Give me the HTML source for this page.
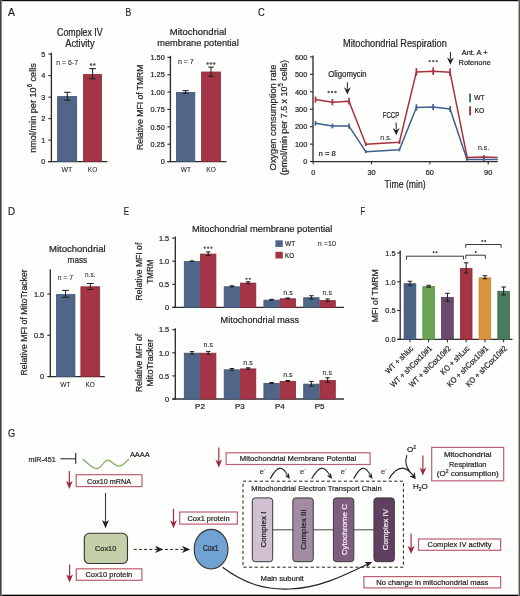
<!DOCTYPE html>
<html><head><meta charset="utf-8"><title>Figure</title><style>
html,body{margin:0;padding:0;background:#fefefd;width:520px;height:596px;overflow:hidden;}
svg{display:block;font-family:"Liberation Sans",sans-serif;will-change:transform;}
</style></head><body>
<svg width="520" height="596" viewBox="0 0 520 596">
<rect x="0" y="0" width="520" height="596" fill="#fefefd"/>
<text x="8.1" y="15.8" font-size="11.5" text-anchor="start" fill="#231f20" stroke="#231f20" stroke-width="0.22" textLength="6.9" lengthAdjust="spacingAndGlyphs">A</text>
<text x="57.1" y="35.5" font-size="10.2" text-anchor="start" fill="#231f20" stroke="#231f20" stroke-width="0.22" textLength="45.6" lengthAdjust="spacingAndGlyphs">Complex IV</text>
<text x="65.2" y="46.5" font-size="10.2" text-anchor="start" fill="#231f20" stroke="#231f20" stroke-width="0.22" textLength="29.4" lengthAdjust="spacingAndGlyphs">Activity</text>
<line x1="51.4" y1="52.6" x2="51.4" y2="162.1" stroke="#2e2e2e" stroke-width="1.35"/>
<line x1="48.4" y1="161.6" x2="51.4" y2="161.6" stroke="#2e2e2e" stroke-width="1.15"/>
<line x1="48.4" y1="140.1" x2="51.4" y2="140.1" stroke="#2e2e2e" stroke-width="1.15"/>
<line x1="48.4" y1="118.6" x2="51.4" y2="118.6" stroke="#2e2e2e" stroke-width="1.15"/>
<line x1="48.4" y1="97.1" x2="51.4" y2="97.1" stroke="#2e2e2e" stroke-width="1.15"/>
<line x1="48.4" y1="75.6" x2="51.4" y2="75.6" stroke="#2e2e2e" stroke-width="1.15"/>
<line x1="48.4" y1="54.1" x2="51.4" y2="54.1" stroke="#2e2e2e" stroke-width="1.15"/>
<text x="45.3" y="164.3" font-size="8" text-anchor="end" fill="#231f20" stroke="#231f20" stroke-width="0.22" textLength="4.09" lengthAdjust="spacingAndGlyphs">0</text>
<text x="45.3" y="142.8" font-size="8" text-anchor="end" fill="#231f20" stroke="#231f20" stroke-width="0.22" textLength="4.09" lengthAdjust="spacingAndGlyphs">1</text>
<text x="45.3" y="121.3" font-size="8" text-anchor="end" fill="#231f20" stroke="#231f20" stroke-width="0.22" textLength="4.09" lengthAdjust="spacingAndGlyphs">2</text>
<text x="45.3" y="99.8" font-size="8" text-anchor="end" fill="#231f20" stroke="#231f20" stroke-width="0.22" textLength="4.09" lengthAdjust="spacingAndGlyphs">3</text>
<text x="45.3" y="78.3" font-size="8" text-anchor="end" fill="#231f20" stroke="#231f20" stroke-width="0.22" textLength="4.09" lengthAdjust="spacingAndGlyphs">4</text>
<text x="45.3" y="56.8" font-size="8" text-anchor="end" fill="#231f20" stroke="#231f20" stroke-width="0.22" textLength="4.09" lengthAdjust="spacingAndGlyphs">5</text>
<line x1="48.2" y1="161.6" x2="107.5" y2="161.6" stroke="#2e2e2e" stroke-width="1.35"/>
<rect x="57.6" y="96.6" width="19.1" height="65" fill="#4f6688" stroke="#3e5578" stroke-width="0.8"/>
<rect x="83.6" y="74.4" width="17.9" height="87.2" fill="#a33547" stroke="#8f2738" stroke-width="0.8"/>
<line x1="67.3" y1="92.3" x2="67.3" y2="100.2" stroke="#231f20" stroke-width="1.05"/>
<line x1="64.1" y1="92.3" x2="70.5" y2="92.3" stroke="#231f20" stroke-width="1.05"/>
<line x1="64.1" y1="100.2" x2="70.5" y2="100.2" stroke="#231f20" stroke-width="1.05"/>
<line x1="92.6" y1="68.6" x2="92.6" y2="78.7" stroke="#231f20" stroke-width="1.05"/>
<line x1="89.3" y1="68.6" x2="95.9" y2="68.6" stroke="#231f20" stroke-width="1.05"/>
<line x1="89.3" y1="78.7" x2="95.9" y2="78.7" stroke="#231f20" stroke-width="1.05"/>
<text x="56.3" y="64.8" font-size="7.2" text-anchor="start" fill="#231f20" stroke="#231f20" stroke-width="0.08" textLength="21.7" lengthAdjust="spacingAndGlyphs">n = 6-7</text>
<circle cx="91.08" cy="64.6" r="1.3" fill="#5a5a5a"/>
<circle cx="94.33" cy="64.6" r="1.3" fill="#5a5a5a"/>
<text x="61.5" y="172.2" font-size="7" text-anchor="start" fill="#231f20" stroke="#231f20" stroke-width="0.08" textLength="10.8" lengthAdjust="spacingAndGlyphs">WT</text>
<text x="87.8" y="172.2" font-size="7" text-anchor="start" fill="#231f20" stroke="#231f20" stroke-width="0.08" textLength="9.4" lengthAdjust="spacingAndGlyphs">KO</text>
<text x="35.5" y="108" font-size="9.6" text-anchor="middle" fill="#231f20" stroke="#231f20" stroke-width="0.22" transform="rotate(-90 35.5 108)" textLength="89.7" lengthAdjust="spacingAndGlyphs">nmol/min per 10<tspan font-size="6.3" dy="-3.6">6</tspan><tspan dy="3.6"> cells</tspan></text>
<text x="125.6" y="16" font-size="11.5" text-anchor="start" fill="#231f20" stroke="#231f20" stroke-width="0.22" textLength="5.7" lengthAdjust="spacingAndGlyphs">B</text>
<text x="169.8" y="35.4" font-size="9.8" text-anchor="start" fill="#231f20" stroke="#231f20" stroke-width="0.22" textLength="56.5" lengthAdjust="spacingAndGlyphs">Mitochondrial</text>
<text x="157.3" y="46.3" font-size="9.8" text-anchor="start" fill="#231f20" stroke="#231f20" stroke-width="0.22" textLength="81.5" lengthAdjust="spacingAndGlyphs">membrane potential</text>
<line x1="170.4" y1="55.82" x2="170.4" y2="162.1" stroke="#2e2e2e" stroke-width="1.35"/>
<line x1="167.4" y1="161.6" x2="170.4" y2="161.6" stroke="#2e2e2e" stroke-width="1.15"/>
<line x1="167.4" y1="144.22" x2="170.4" y2="144.22" stroke="#2e2e2e" stroke-width="1.15"/>
<line x1="167.4" y1="126.84" x2="170.4" y2="126.84" stroke="#2e2e2e" stroke-width="1.15"/>
<line x1="167.4" y1="109.46" x2="170.4" y2="109.46" stroke="#2e2e2e" stroke-width="1.15"/>
<line x1="167.4" y1="92.08" x2="170.4" y2="92.08" stroke="#2e2e2e" stroke-width="1.15"/>
<line x1="167.4" y1="74.7" x2="170.4" y2="74.7" stroke="#2e2e2e" stroke-width="1.15"/>
<line x1="167.4" y1="57.32" x2="170.4" y2="57.32" stroke="#2e2e2e" stroke-width="1.15"/>
<text x="164.8" y="164.3" font-size="8" text-anchor="end" fill="#231f20" stroke="#231f20" stroke-width="0.22" textLength="4.09" lengthAdjust="spacingAndGlyphs">0</text>
<text x="164.8" y="146.92" font-size="8" text-anchor="end" fill="#231f20" stroke="#231f20" stroke-width="0.22" textLength="14.32" lengthAdjust="spacingAndGlyphs">0.25</text>
<text x="164.8" y="129.54" font-size="8" text-anchor="end" fill="#231f20" stroke="#231f20" stroke-width="0.22" textLength="14.32" lengthAdjust="spacingAndGlyphs">0.50</text>
<text x="164.8" y="112.16" font-size="8" text-anchor="end" fill="#231f20" stroke="#231f20" stroke-width="0.22" textLength="14.32" lengthAdjust="spacingAndGlyphs">0.75</text>
<text x="164.8" y="94.78" font-size="8" text-anchor="end" fill="#231f20" stroke="#231f20" stroke-width="0.22" textLength="14.32" lengthAdjust="spacingAndGlyphs">1.00</text>
<text x="164.8" y="77.4" font-size="8" text-anchor="end" fill="#231f20" stroke="#231f20" stroke-width="0.22" textLength="14.32" lengthAdjust="spacingAndGlyphs">1.25</text>
<text x="164.8" y="60.02" font-size="8" text-anchor="end" fill="#231f20" stroke="#231f20" stroke-width="0.22" textLength="14.32" lengthAdjust="spacingAndGlyphs">1.50</text>
<line x1="167.3" y1="161.6" x2="226.5" y2="161.6" stroke="#2e2e2e" stroke-width="1.35"/>
<rect x="176.4" y="92.48" width="18.4" height="69.12" fill="#4f6688" stroke="#3e5578" stroke-width="0.8"/>
<rect x="201.6" y="72" width="18.8" height="89.6" fill="#a33547" stroke="#8f2738" stroke-width="0.8"/>
<line x1="185.6" y1="90.6" x2="185.6" y2="93.2" stroke="#231f20" stroke-width="1.05"/>
<line x1="182.6" y1="90.6" x2="188.6" y2="90.6" stroke="#231f20" stroke-width="1.05"/>
<line x1="182.6" y1="93.2" x2="188.6" y2="93.2" stroke="#231f20" stroke-width="1.05"/>
<line x1="211" y1="67.1" x2="211" y2="76.3" stroke="#231f20" stroke-width="1.05"/>
<line x1="208.2" y1="67.1" x2="213.8" y2="67.1" stroke="#231f20" stroke-width="1.05"/>
<line x1="208.2" y1="76.3" x2="213.8" y2="76.3" stroke="#231f20" stroke-width="1.05"/>
<text x="177.9" y="64.3" font-size="7.5" text-anchor="start" fill="#231f20" stroke="#231f20" stroke-width="0.08" textLength="15.9" lengthAdjust="spacingAndGlyphs">n = 7</text>
<circle cx="207.6" cy="63.5" r="1.3" fill="#5a5a5a"/>
<circle cx="210.85" cy="63.5" r="1.3" fill="#5a5a5a"/>
<circle cx="214.1" cy="63.5" r="1.3" fill="#5a5a5a"/>
<text x="180.8" y="172" font-size="7" text-anchor="start" fill="#231f20" stroke="#231f20" stroke-width="0.08" textLength="10.2" lengthAdjust="spacingAndGlyphs">WT</text>
<text x="206.3" y="172" font-size="7" text-anchor="start" fill="#231f20" stroke="#231f20" stroke-width="0.08" textLength="9.5" lengthAdjust="spacingAndGlyphs">KO</text>
<text x="143.3" y="107.3" font-size="9.6" text-anchor="middle" fill="#231f20" stroke="#231f20" stroke-width="0.22" transform="rotate(-90 143.3 107.3)" textLength="85.4" lengthAdjust="spacingAndGlyphs">Relative MFI of TMRM</text>
<text x="258.1" y="16" font-size="11.5" text-anchor="start" fill="#231f20" stroke="#231f20" stroke-width="0.22" textLength="6.7" lengthAdjust="spacingAndGlyphs">C</text>
<text x="343" y="47" font-size="10.2" text-anchor="start" fill="#231f20" stroke="#231f20" stroke-width="0.22" textLength="103.8" lengthAdjust="spacingAndGlyphs">Mitochondrial Respiration</text>
<line x1="313" y1="55.4" x2="313" y2="162.1" stroke="#2e2e2e" stroke-width="1.35"/>
<line x1="310" y1="161.6" x2="313" y2="161.6" stroke="#2e2e2e" stroke-width="1.15"/>
<line x1="310" y1="144.15" x2="313" y2="144.15" stroke="#2e2e2e" stroke-width="1.15"/>
<line x1="310" y1="126.7" x2="313" y2="126.7" stroke="#2e2e2e" stroke-width="1.15"/>
<line x1="310" y1="109.25" x2="313" y2="109.25" stroke="#2e2e2e" stroke-width="1.15"/>
<line x1="310" y1="91.8" x2="313" y2="91.8" stroke="#2e2e2e" stroke-width="1.15"/>
<line x1="310" y1="74.35" x2="313" y2="74.35" stroke="#2e2e2e" stroke-width="1.15"/>
<line x1="310" y1="56.9" x2="313" y2="56.9" stroke="#2e2e2e" stroke-width="1.15"/>
<text x="307.3" y="164.3" font-size="8" text-anchor="end" fill="#231f20" stroke="#231f20" stroke-width="0.22" textLength="4.09" lengthAdjust="spacingAndGlyphs">0</text>
<text x="307.3" y="146.85" font-size="8" text-anchor="end" fill="#231f20" stroke="#231f20" stroke-width="0.22" textLength="12.28" lengthAdjust="spacingAndGlyphs">100</text>
<text x="307.3" y="129.4" font-size="8" text-anchor="end" fill="#231f20" stroke="#231f20" stroke-width="0.22" textLength="12.28" lengthAdjust="spacingAndGlyphs">200</text>
<text x="307.3" y="111.95" font-size="8" text-anchor="end" fill="#231f20" stroke="#231f20" stroke-width="0.22" textLength="12.28" lengthAdjust="spacingAndGlyphs">300</text>
<text x="307.3" y="94.5" font-size="8" text-anchor="end" fill="#231f20" stroke="#231f20" stroke-width="0.22" textLength="12.28" lengthAdjust="spacingAndGlyphs">400</text>
<text x="307.3" y="77.05" font-size="8" text-anchor="end" fill="#231f20" stroke="#231f20" stroke-width="0.22" textLength="12.28" lengthAdjust="spacingAndGlyphs">500</text>
<text x="307.3" y="59.6" font-size="8" text-anchor="end" fill="#231f20" stroke="#231f20" stroke-width="0.22" textLength="12.28" lengthAdjust="spacingAndGlyphs">600</text>
<line x1="313" y1="161.6" x2="497.8" y2="161.6" stroke="#2e2e2e" stroke-width="1.35"/>
<line x1="313.2" y1="161.6" x2="313.2" y2="164.4" stroke="#231f20" stroke-width="1"/>
<text x="313.2" y="175" font-size="8" text-anchor="middle" fill="#231f20" stroke="#231f20" stroke-width="0.22" textLength="4.09" lengthAdjust="spacingAndGlyphs">0</text>
<line x1="371.53" y1="161.6" x2="371.53" y2="164.4" stroke="#231f20" stroke-width="1"/>
<text x="371.53" y="175" font-size="8" text-anchor="middle" fill="#231f20" stroke="#231f20" stroke-width="0.22" textLength="8.19" lengthAdjust="spacingAndGlyphs">30</text>
<line x1="429.86" y1="161.6" x2="429.86" y2="164.4" stroke="#231f20" stroke-width="1"/>
<text x="429.86" y="175" font-size="8" text-anchor="middle" fill="#231f20" stroke="#231f20" stroke-width="0.22" textLength="8.19" lengthAdjust="spacingAndGlyphs">60</text>
<line x1="488.2" y1="161.6" x2="488.2" y2="164.4" stroke="#231f20" stroke-width="1"/>
<text x="488.2" y="175" font-size="8" text-anchor="middle" fill="#231f20" stroke="#231f20" stroke-width="0.22" textLength="8.19" lengthAdjust="spacingAndGlyphs">90</text>
<text x="384.6" y="188.3" font-size="10.5" text-anchor="start" fill="#231f20" stroke="#231f20" stroke-width="0.22" textLength="41" lengthAdjust="spacingAndGlyphs">Time (min)</text>
<polyline points="315.5,99.6 332.4,102.2 349,101.2 365.8,144.2 399.4,142.3 416.4,71.9 433.2,71.2 450.1,72.3 467.2,157.6 483.8,156.9 497.8,157.4" fill="none" stroke="#a8303f" stroke-width="1.5" stroke-linejoin="round"/>
<polyline points="315.5,123.3 332.4,126 349,126.1 365.8,151.7 399.4,149.8 416.4,107.5 433.2,107.1 450.1,109 467,159.6 483.8,159.4 497.8,159.5" fill="none" stroke="#3f5f8c" stroke-width="1.5" stroke-linejoin="round"/>
<line x1="315.5" y1="96.6" x2="315.5" y2="102.6" stroke="#a8303f" stroke-width="1.7"/>
<line x1="332.4" y1="99.1" x2="332.4" y2="105.3" stroke="#a8303f" stroke-width="1.7"/>
<line x1="349" y1="97.8" x2="349" y2="104.6" stroke="#a8303f" stroke-width="1.7"/>
<line x1="365.8" y1="142.5" x2="365.8" y2="145.9" stroke="#a8303f" stroke-width="1.7"/>
<line x1="399.4" y1="140.6" x2="399.4" y2="144" stroke="#a8303f" stroke-width="1.7"/>
<line x1="416.4" y1="68.2" x2="416.4" y2="75.6" stroke="#a8303f" stroke-width="1.7"/>
<line x1="433.2" y1="67.5" x2="433.2" y2="74.9" stroke="#a8303f" stroke-width="1.7"/>
<line x1="450.1" y1="68.5" x2="450.1" y2="76.1" stroke="#a8303f" stroke-width="1.7"/>
<line x1="467.2" y1="156.3" x2="467.2" y2="158.9" stroke="#a8303f" stroke-width="1.7"/>
<line x1="483.8" y1="155.1" x2="483.8" y2="158.7" stroke="#a8303f" stroke-width="1.7"/>
<line x1="315.5" y1="121.1" x2="315.5" y2="125.5" stroke="#3f5f8c" stroke-width="1.7"/>
<line x1="332.4" y1="123.6" x2="332.4" y2="128.4" stroke="#3f5f8c" stroke-width="1.7"/>
<line x1="349" y1="123.5" x2="349" y2="128.7" stroke="#3f5f8c" stroke-width="1.7"/>
<line x1="365.8" y1="150.2" x2="365.8" y2="153.2" stroke="#3f5f8c" stroke-width="1.7"/>
<line x1="399.4" y1="148.3" x2="399.4" y2="151.3" stroke="#3f5f8c" stroke-width="1.7"/>
<line x1="416.4" y1="104.3" x2="416.4" y2="110.7" stroke="#3f5f8c" stroke-width="1.7"/>
<line x1="433.2" y1="103.9" x2="433.2" y2="110.3" stroke="#3f5f8c" stroke-width="1.7"/>
<line x1="450.1" y1="106" x2="450.1" y2="112" stroke="#3f5f8c" stroke-width="1.7"/>
<line x1="467" y1="158.4" x2="467" y2="160.8" stroke="#3f5f8c" stroke-width="1.7"/>
<line x1="483.8" y1="157.8" x2="483.8" y2="161" stroke="#3f5f8c" stroke-width="1.7"/>
<text x="318.5" y="155.9" font-size="8" text-anchor="start" fill="#231f20" stroke="#231f20" stroke-width="0.22" textLength="17.3" lengthAdjust="spacingAndGlyphs">n = 8</text>
<text x="328.3" y="76.9" font-size="8.6" text-anchor="start" fill="#231f20" stroke="#231f20" stroke-width="0.22" textLength="38.4" lengthAdjust="spacingAndGlyphs">Oligomycin</text>
<line x1="347.4" y1="82.3" x2="347.4" y2="88.7" stroke="#231f20" stroke-width="1"/>
<path d="M347.4 94.4 L344 87.2 L347.4 89.4 L350.8 87.2 Z" fill="#231f20"/>
<circle cx="328.7" cy="92" r="1.2" fill="#5a5a5a"/>
<circle cx="332.1" cy="92" r="1.2" fill="#5a5a5a"/>
<circle cx="335.5" cy="92" r="1.2" fill="#5a5a5a"/>
<text x="382.7" y="117.9" font-size="8.6" text-anchor="start" fill="#231f20" stroke="#231f20" stroke-width="0.22" textLength="16.7" lengthAdjust="spacingAndGlyphs">FCCP</text>
<line x1="396.2" y1="122.5" x2="396.2" y2="129.5" stroke="#231f20" stroke-width="1"/>
<path d="M396.2 135.2 L392.8 128 L396.2 130.2 L399.6 128 Z" fill="#231f20"/>
<text x="380.2" y="140" font-size="7.5" text-anchor="start" fill="#231f20" stroke="#231f20" stroke-width="0.08" textLength="11.5" lengthAdjust="spacingAndGlyphs">n.s.</text>
<circle cx="429.7" cy="61.1" r="1.2" fill="#5a5a5a"/>
<circle cx="433.2" cy="61.1" r="1.2" fill="#5a5a5a"/>
<circle cx="436.7" cy="61.1" r="1.2" fill="#5a5a5a"/>
<line x1="450.4" y1="52" x2="450.4" y2="59.1" stroke="#231f20" stroke-width="1"/>
<path d="M450.4 64.8 L447 57.6 L450.4 59.8 L453.8 57.6 Z" fill="#231f20"/>
<text x="461.7" y="55.4" font-size="8" text-anchor="start" fill="#231f20" stroke="#231f20" stroke-width="0.22" textLength="25.8" lengthAdjust="spacingAndGlyphs">Ant. A +</text>
<text x="458.5" y="64.6" font-size="8" text-anchor="start" fill="#231f20" stroke="#231f20" stroke-width="0.22" textLength="32.3" lengthAdjust="spacingAndGlyphs">Rotenone</text>
<line x1="470.1" y1="93.6" x2="470.1" y2="102.2" stroke="#3f5f8c" stroke-width="1.9"/>
<line x1="470.1" y1="106.3" x2="470.1" y2="115.3" stroke="#a8303f" stroke-width="1.9"/>
<text x="473.9" y="100.3" font-size="8" text-anchor="start" fill="#231f20" stroke="#231f20" stroke-width="0.22" textLength="10.9" lengthAdjust="spacingAndGlyphs">WT</text>
<text x="474.6" y="112.9" font-size="8" text-anchor="start" fill="#231f20" stroke="#231f20" stroke-width="0.22" textLength="9.7" lengthAdjust="spacingAndGlyphs">KO</text>
<text x="477.9" y="149.9" font-size="7.5" text-anchor="start" fill="#231f20" stroke="#231f20" stroke-width="0.08" textLength="11.5" lengthAdjust="spacingAndGlyphs">n.s.</text>
<text x="275.9" y="117.6" font-size="9.6" text-anchor="middle" fill="#231f20" stroke="#231f20" stroke-width="0.22" transform="rotate(-90 275.9 117.6)" textLength="105.9" lengthAdjust="spacingAndGlyphs">Oxygen consumption rate</text>
<text x="287" y="117.6" font-size="9.6" text-anchor="middle" fill="#231f20" stroke="#231f20" stroke-width="0.22" transform="rotate(-90 287 117.6)" textLength="115.3" lengthAdjust="spacingAndGlyphs">(pmol/min per 7.5 x 10<tspan font-size="6.3" dy="-3.6">5</tspan><tspan dy="3.6"> cells)</tspan></text>
<text x="8.1" y="215.2" font-size="11.5" text-anchor="start" fill="#231f20" stroke="#231f20" stroke-width="0.22" textLength="7.1" lengthAdjust="spacingAndGlyphs">D</text>
<text x="49" y="251.8" font-size="9.4" text-anchor="start" fill="#231f20" stroke="#231f20" stroke-width="0.22" textLength="56.6" lengthAdjust="spacingAndGlyphs">Mitochondrial</text>
<text x="67.6" y="263" font-size="9.4" text-anchor="start" fill="#231f20" stroke="#231f20" stroke-width="0.22" textLength="19.5" lengthAdjust="spacingAndGlyphs">mass</text>
<line x1="50.3" y1="269.3" x2="50.3" y2="377.1" stroke="#2e2e2e" stroke-width="1.35"/>
<line x1="47.3" y1="376.6" x2="50.3" y2="376.6" stroke="#2e2e2e" stroke-width="1.15"/>
<line x1="47.3" y1="335.3" x2="50.3" y2="335.3" stroke="#2e2e2e" stroke-width="1.15"/>
<line x1="47.3" y1="294" x2="50.3" y2="294" stroke="#2e2e2e" stroke-width="1.15"/>
<text x="44.2" y="379.3" font-size="8" text-anchor="end" fill="#231f20" stroke="#231f20" stroke-width="0.22" textLength="4.09" lengthAdjust="spacingAndGlyphs">0</text>
<text x="44.2" y="338" font-size="8" text-anchor="end" fill="#231f20" stroke="#231f20" stroke-width="0.22" textLength="10.23" lengthAdjust="spacingAndGlyphs">0.5</text>
<text x="44.2" y="296.7" font-size="8" text-anchor="end" fill="#231f20" stroke="#231f20" stroke-width="0.22" textLength="10.23" lengthAdjust="spacingAndGlyphs">1.0</text>
<line x1="47.7" y1="376.6" x2="104.8" y2="376.6" stroke="#2e2e2e" stroke-width="1.35"/>
<rect x="56.4" y="294.6" width="18.5" height="82" fill="#4f6688" stroke="#3e5578" stroke-width="0.8"/>
<rect x="80.9" y="286.8" width="18.8" height="89.8" fill="#a33547" stroke="#8f2738" stroke-width="0.8"/>
<line x1="65.5" y1="290.4" x2="65.5" y2="297.3" stroke="#231f20" stroke-width="1.05"/>
<line x1="62.1" y1="290.4" x2="68.9" y2="290.4" stroke="#231f20" stroke-width="1.05"/>
<line x1="62.1" y1="297.3" x2="68.9" y2="297.3" stroke="#231f20" stroke-width="1.05"/>
<line x1="90.3" y1="283.5" x2="90.3" y2="289.5" stroke="#231f20" stroke-width="1.05"/>
<line x1="86.9" y1="283.5" x2="93.7" y2="283.5" stroke="#231f20" stroke-width="1.05"/>
<line x1="86.9" y1="289.5" x2="93.7" y2="289.5" stroke="#231f20" stroke-width="1.05"/>
<text x="57.7" y="279.5" font-size="7.5" text-anchor="start" fill="#231f20" stroke="#231f20" stroke-width="0.08" textLength="15.2" lengthAdjust="spacingAndGlyphs">n = 7</text>
<text x="85" y="277.4" font-size="7.5" text-anchor="start" fill="#231f20" stroke="#231f20" stroke-width="0.08" textLength="10.4" lengthAdjust="spacingAndGlyphs">n.s.</text>
<text x="60.3" y="387" font-size="7" text-anchor="start" fill="#231f20" stroke="#231f20" stroke-width="0.08" textLength="10.3" lengthAdjust="spacingAndGlyphs">WT</text>
<text x="85.4" y="387" font-size="7" text-anchor="start" fill="#231f20" stroke="#231f20" stroke-width="0.08" textLength="9.4" lengthAdjust="spacingAndGlyphs">KO</text>
<text x="27.2" y="322.5" font-size="9.6" text-anchor="middle" fill="#231f20" stroke="#231f20" stroke-width="0.22" transform="rotate(-90 27.2 322.5)" textLength="106.2" lengthAdjust="spacingAndGlyphs">Relative MFI of MitoTracker</text>
<text x="123.8" y="215.4" font-size="11.5" text-anchor="start" fill="#231f20" stroke="#231f20" stroke-width="0.22" textLength="5.2" lengthAdjust="spacingAndGlyphs">E</text>
<line x1="175.3" y1="236.6" x2="175.3" y2="307.9" stroke="#2e2e2e" stroke-width="1.35"/>
<line x1="172.3" y1="307.4" x2="175.3" y2="307.4" stroke="#2e2e2e" stroke-width="1.15"/>
<line x1="172.3" y1="284.3" x2="175.3" y2="284.3" stroke="#2e2e2e" stroke-width="1.15"/>
<line x1="172.3" y1="261.2" x2="175.3" y2="261.2" stroke="#2e2e2e" stroke-width="1.15"/>
<line x1="172.3" y1="238.1" x2="175.3" y2="238.1" stroke="#2e2e2e" stroke-width="1.15"/>
<text x="169.2" y="310.1" font-size="8" text-anchor="end" fill="#231f20" stroke="#231f20" stroke-width="0.22" textLength="4.09" lengthAdjust="spacingAndGlyphs">0</text>
<text x="169.2" y="287" font-size="8" text-anchor="end" fill="#231f20" stroke="#231f20" stroke-width="0.22" textLength="10.23" lengthAdjust="spacingAndGlyphs">0.5</text>
<text x="169.2" y="263.9" font-size="8" text-anchor="end" fill="#231f20" stroke="#231f20" stroke-width="0.22" textLength="10.23" lengthAdjust="spacingAndGlyphs">1.0</text>
<text x="169.2" y="240.8" font-size="8" text-anchor="end" fill="#231f20" stroke="#231f20" stroke-width="0.22" textLength="10.23" lengthAdjust="spacingAndGlyphs">1.5</text>
<line x1="172.5" y1="307.4" x2="344" y2="307.4" stroke="#2e2e2e" stroke-width="1.35"/>
<rect x="184.3" y="261.6" width="15.4" height="45.8" fill="#4f6688" stroke="#3e5578" stroke-width="0.8"/>
<rect x="200.5" y="254.07" width="15.4" height="53.33" fill="#a33547" stroke="#8f2738" stroke-width="0.8"/>
<line x1="192" y1="260.97" x2="192" y2="261.43" stroke="#231f20" stroke-width="1.05"/>
<line x1="189.75" y1="260.97" x2="194.25" y2="260.97" stroke="#231f20" stroke-width="1.05"/>
<line x1="189.75" y1="261.43" x2="194.25" y2="261.43" stroke="#231f20" stroke-width="1.05"/>
<line x1="208.2" y1="251.82" x2="208.2" y2="255.52" stroke="#231f20" stroke-width="1.05"/>
<line x1="205.95" y1="251.82" x2="210.45" y2="251.82" stroke="#231f20" stroke-width="1.05"/>
<line x1="205.95" y1="255.52" x2="210.45" y2="255.52" stroke="#231f20" stroke-width="1.05"/>
<rect x="224.2" y="286.78" width="15.4" height="20.62" fill="#4f6688" stroke="#3e5578" stroke-width="0.8"/>
<rect x="240.4" y="283.08" width="15.4" height="24.32" fill="#a33547" stroke="#8f2738" stroke-width="0.8"/>
<line x1="231.9" y1="285.82" x2="231.9" y2="286.93" stroke="#231f20" stroke-width="1.05"/>
<line x1="229.65" y1="285.82" x2="234.15" y2="285.82" stroke="#231f20" stroke-width="1.05"/>
<line x1="229.65" y1="286.93" x2="234.15" y2="286.93" stroke="#231f20" stroke-width="1.05"/>
<line x1="248.1" y1="281.76" x2="248.1" y2="283.61" stroke="#231f20" stroke-width="1.05"/>
<line x1="245.85" y1="281.76" x2="250.35" y2="281.76" stroke="#231f20" stroke-width="1.05"/>
<line x1="245.85" y1="283.61" x2="250.35" y2="283.61" stroke="#231f20" stroke-width="1.05"/>
<rect x="263.9" y="300.18" width="15.4" height="7.22" fill="#4f6688" stroke="#3e5578" stroke-width="0.8"/>
<rect x="280.1" y="298.79" width="15.4" height="8.61" fill="#a33547" stroke="#8f2738" stroke-width="0.8"/>
<line x1="271.6" y1="299.31" x2="271.6" y2="300.24" stroke="#231f20" stroke-width="1.05"/>
<line x1="269.35" y1="299.31" x2="273.85" y2="299.31" stroke="#231f20" stroke-width="1.05"/>
<line x1="269.35" y1="300.24" x2="273.85" y2="300.24" stroke="#231f20" stroke-width="1.05"/>
<line x1="287.8" y1="298.02" x2="287.8" y2="298.76" stroke="#231f20" stroke-width="1.05"/>
<line x1="285.55" y1="298.02" x2="290.05" y2="298.02" stroke="#231f20" stroke-width="1.05"/>
<line x1="285.55" y1="298.76" x2="290.05" y2="298.76" stroke="#231f20" stroke-width="1.05"/>
<rect x="303.7" y="297.73" width="15.4" height="9.67" fill="#4f6688" stroke="#3e5578" stroke-width="0.8"/>
<rect x="319.9" y="300.55" width="15.4" height="6.85" fill="#a33547" stroke="#8f2738" stroke-width="0.8"/>
<line x1="311.4" y1="295.71" x2="311.4" y2="298.95" stroke="#231f20" stroke-width="1.05"/>
<line x1="309.15" y1="295.71" x2="313.65" y2="295.71" stroke="#231f20" stroke-width="1.05"/>
<line x1="309.15" y1="298.95" x2="313.65" y2="298.95" stroke="#231f20" stroke-width="1.05"/>
<line x1="327.6" y1="298.99" x2="327.6" y2="301.3" stroke="#231f20" stroke-width="1.05"/>
<line x1="325.35" y1="298.99" x2="329.85" y2="298.99" stroke="#231f20" stroke-width="1.05"/>
<line x1="325.35" y1="301.3" x2="329.85" y2="301.3" stroke="#231f20" stroke-width="1.05"/>
<text x="191.9" y="231.5" font-size="9.7" text-anchor="start" fill="#231f20" stroke="#231f20" stroke-width="0.22" textLength="140.5" lengthAdjust="spacingAndGlyphs">Mitochondrial membrane potential</text>
<circle cx="204.8" cy="247.75" r="1.15" fill="#5a5a5a"/>
<circle cx="208.1" cy="247.75" r="1.15" fill="#5a5a5a"/>
<circle cx="211.4" cy="247.75" r="1.15" fill="#5a5a5a"/>
<circle cx="246.55" cy="278.8" r="1.15" fill="#5a5a5a"/>
<circle cx="249.85" cy="278.8" r="1.15" fill="#5a5a5a"/>
<text x="288.1" y="294.9" font-size="7.1" text-anchor="middle" fill="#231f20" stroke="#231f20" stroke-width="0.08">n.s</text>
<text x="327.3" y="294.9" font-size="7.1" text-anchor="middle" fill="#231f20" stroke="#231f20" stroke-width="0.08">n.s</text>
<rect x="275.4" y="240.3" width="7.4" height="6.7" fill="#4f6688"/>
<rect x="275.4" y="251.8" width="7.4" height="6.7" fill="#a33547"/>
<text x="285.1" y="246" font-size="8" text-anchor="start" fill="#231f20" stroke="#231f20" stroke-width="0.22" textLength="10.2" lengthAdjust="spacingAndGlyphs">WT</text>
<text x="285.1" y="257.5" font-size="8" text-anchor="start" fill="#231f20" stroke="#231f20" stroke-width="0.22" textLength="8.9" lengthAdjust="spacingAndGlyphs">KO</text>
<text x="317.8" y="245.8" font-size="7.5" text-anchor="start" fill="#231f20" stroke="#231f20" stroke-width="0.08" textLength="18.2" lengthAdjust="spacingAndGlyphs">n =10</text>
<text x="141.6" y="271.6" font-size="9.6" text-anchor="middle" fill="#231f20" stroke="#231f20" stroke-width="0.22" transform="rotate(-90 141.6 271.6)" textLength="57.8" lengthAdjust="spacingAndGlyphs">Relative MFI of</text>
<text x="152.6" y="271.5" font-size="9.6" text-anchor="middle" fill="#231f20" stroke="#231f20" stroke-width="0.22" transform="rotate(-90 152.6 271.5)" textLength="24.1" lengthAdjust="spacingAndGlyphs">TMRM</text>
<line x1="175.3" y1="328.2" x2="175.3" y2="399.5" stroke="#2e2e2e" stroke-width="1.35"/>
<line x1="172.3" y1="399" x2="175.3" y2="399" stroke="#2e2e2e" stroke-width="1.15"/>
<line x1="172.3" y1="375.9" x2="175.3" y2="375.9" stroke="#2e2e2e" stroke-width="1.15"/>
<line x1="172.3" y1="352.8" x2="175.3" y2="352.8" stroke="#2e2e2e" stroke-width="1.15"/>
<line x1="172.3" y1="329.7" x2="175.3" y2="329.7" stroke="#2e2e2e" stroke-width="1.15"/>
<text x="169.2" y="401.7" font-size="8" text-anchor="end" fill="#231f20" stroke="#231f20" stroke-width="0.22" textLength="4.09" lengthAdjust="spacingAndGlyphs">0</text>
<text x="169.2" y="378.6" font-size="8" text-anchor="end" fill="#231f20" stroke="#231f20" stroke-width="0.22" textLength="10.23" lengthAdjust="spacingAndGlyphs">0.5</text>
<text x="169.2" y="355.5" font-size="8" text-anchor="end" fill="#231f20" stroke="#231f20" stroke-width="0.22" textLength="10.23" lengthAdjust="spacingAndGlyphs">1.0</text>
<text x="169.2" y="332.4" font-size="8" text-anchor="end" fill="#231f20" stroke="#231f20" stroke-width="0.22" textLength="10.23" lengthAdjust="spacingAndGlyphs">1.5</text>
<line x1="172.5" y1="399" x2="344" y2="399" stroke="#2e2e2e" stroke-width="1.35"/>
<rect x="184.3" y="353.2" width="15.4" height="45.8" fill="#4f6688" stroke="#3e5578" stroke-width="0.8"/>
<rect x="200.5" y="353.2" width="15.4" height="45.8" fill="#a33547" stroke="#8f2738" stroke-width="0.8"/>
<line x1="192" y1="351.64" x2="192" y2="353.95" stroke="#231f20" stroke-width="1.05"/>
<line x1="189.75" y1="351.64" x2="194.25" y2="351.64" stroke="#231f20" stroke-width="1.05"/>
<line x1="189.75" y1="353.95" x2="194.25" y2="353.95" stroke="#231f20" stroke-width="1.05"/>
<line x1="208.2" y1="351.41" x2="208.2" y2="354.19" stroke="#231f20" stroke-width="1.05"/>
<line x1="205.95" y1="351.41" x2="210.45" y2="351.41" stroke="#231f20" stroke-width="1.05"/>
<line x1="205.95" y1="354.19" x2="210.45" y2="354.19" stroke="#231f20" stroke-width="1.05"/>
<rect x="224.2" y="369.83" width="15.4" height="29.17" fill="#4f6688" stroke="#3e5578" stroke-width="0.8"/>
<rect x="240.4" y="368.91" width="15.4" height="30.09" fill="#a33547" stroke="#8f2738" stroke-width="0.8"/>
<line x1="231.9" y1="368.51" x2="231.9" y2="370.36" stroke="#231f20" stroke-width="1.05"/>
<line x1="229.65" y1="368.51" x2="234.15" y2="368.51" stroke="#231f20" stroke-width="1.05"/>
<line x1="229.65" y1="370.36" x2="234.15" y2="370.36" stroke="#231f20" stroke-width="1.05"/>
<line x1="248.1" y1="367.81" x2="248.1" y2="369.2" stroke="#231f20" stroke-width="1.05"/>
<line x1="245.85" y1="367.81" x2="250.35" y2="367.81" stroke="#231f20" stroke-width="1.05"/>
<line x1="245.85" y1="369.2" x2="250.35" y2="369.2" stroke="#231f20" stroke-width="1.05"/>
<rect x="263.9" y="383.46" width="15.4" height="15.54" fill="#4f6688" stroke="#3e5578" stroke-width="0.8"/>
<rect x="280.1" y="381.38" width="15.4" height="17.62" fill="#a33547" stroke="#8f2738" stroke-width="0.8"/>
<line x1="271.6" y1="382.51" x2="271.6" y2="383.62" stroke="#231f20" stroke-width="1.05"/>
<line x1="269.35" y1="382.51" x2="273.85" y2="382.51" stroke="#231f20" stroke-width="1.05"/>
<line x1="269.35" y1="383.62" x2="273.85" y2="383.62" stroke="#231f20" stroke-width="1.05"/>
<line x1="287.8" y1="380.52" x2="287.8" y2="381.44" stroke="#231f20" stroke-width="1.05"/>
<line x1="285.55" y1="380.52" x2="290.05" y2="380.52" stroke="#231f20" stroke-width="1.05"/>
<line x1="285.55" y1="381.44" x2="290.05" y2="381.44" stroke="#231f20" stroke-width="1.05"/>
<rect x="303.7" y="384.15" width="15.4" height="14.85" fill="#4f6688" stroke="#3e5578" stroke-width="0.8"/>
<rect x="319.9" y="380.46" width="15.4" height="18.54" fill="#a33547" stroke="#8f2738" stroke-width="0.8"/>
<line x1="311.4" y1="381.44" x2="311.4" y2="386.06" stroke="#231f20" stroke-width="1.05"/>
<line x1="309.15" y1="381.44" x2="313.65" y2="381.44" stroke="#231f20" stroke-width="1.05"/>
<line x1="309.15" y1="386.06" x2="313.65" y2="386.06" stroke="#231f20" stroke-width="1.05"/>
<line x1="327.6" y1="377.75" x2="327.6" y2="382.37" stroke="#231f20" stroke-width="1.05"/>
<line x1="325.35" y1="377.75" x2="329.85" y2="377.75" stroke="#231f20" stroke-width="1.05"/>
<line x1="325.35" y1="382.37" x2="329.85" y2="382.37" stroke="#231f20" stroke-width="1.05"/>
<text x="220.6" y="323.3" font-size="9.8" text-anchor="start" fill="#231f20" stroke="#231f20" stroke-width="0.22" textLength="78.4" lengthAdjust="spacingAndGlyphs">Mitochondrial mass</text>
<text x="208.3" y="347" font-size="7.1" text-anchor="middle" fill="#231f20" stroke="#231f20" stroke-width="0.08">n.s</text>
<text x="248" y="364.5" font-size="7.1" text-anchor="middle" fill="#231f20" stroke="#231f20" stroke-width="0.08">n.s</text>
<text x="287.9" y="376.5" font-size="7.1" text-anchor="middle" fill="#231f20" stroke="#231f20" stroke-width="0.08">n.s</text>
<text x="327.3" y="374.6" font-size="7.1" text-anchor="middle" fill="#231f20" stroke="#231f20" stroke-width="0.08">n.s</text>
<text x="200" y="409.3" font-size="8" text-anchor="middle" fill="#231f20" stroke="#231f20" stroke-width="0.22">P2</text>
<text x="239.8" y="409.3" font-size="8" text-anchor="middle" fill="#231f20" stroke="#231f20" stroke-width="0.22">P3</text>
<text x="279.8" y="409.3" font-size="8" text-anchor="middle" fill="#231f20" stroke="#231f20" stroke-width="0.22">P4</text>
<text x="319.6" y="409.3" font-size="8" text-anchor="middle" fill="#231f20" stroke="#231f20" stroke-width="0.22">P5</text>
<text x="141.6" y="362.9" font-size="9.6" text-anchor="middle" fill="#231f20" stroke="#231f20" stroke-width="0.22" transform="rotate(-90 141.6 362.9)" textLength="58.2" lengthAdjust="spacingAndGlyphs">Relative MFI of</text>
<text x="152.6" y="362.9" font-size="9.6" text-anchor="middle" fill="#231f20" stroke="#231f20" stroke-width="0.22" transform="rotate(-90 152.6 362.9)" textLength="47.7" lengthAdjust="spacingAndGlyphs">MitoTracker</text>
<text x="360.6" y="215.2" font-size="11.5" text-anchor="start" fill="#231f20" stroke="#231f20" stroke-width="0.22" textLength="4.6" lengthAdjust="spacingAndGlyphs">F</text>
<line x1="400.2" y1="250.5" x2="400.2" y2="339.8" stroke="#2e2e2e" stroke-width="1.35"/>
<line x1="397.2" y1="339.3" x2="400.2" y2="339.3" stroke="#2e2e2e" stroke-width="1.15"/>
<line x1="397.2" y1="310.55" x2="400.2" y2="310.55" stroke="#2e2e2e" stroke-width="1.15"/>
<line x1="397.2" y1="281.8" x2="400.2" y2="281.8" stroke="#2e2e2e" stroke-width="1.15"/>
<line x1="397.2" y1="253.05" x2="400.2" y2="253.05" stroke="#2e2e2e" stroke-width="1.15"/>
<text x="395.6" y="342" font-size="8" text-anchor="end" fill="#231f20" stroke="#231f20" stroke-width="0.22" textLength="10.23" lengthAdjust="spacingAndGlyphs">0.0</text>
<text x="395.6" y="313.25" font-size="8" text-anchor="end" fill="#231f20" stroke="#231f20" stroke-width="0.22" textLength="10.23" lengthAdjust="spacingAndGlyphs">0.5</text>
<text x="395.6" y="284.5" font-size="8" text-anchor="end" fill="#231f20" stroke="#231f20" stroke-width="0.22" textLength="10.23" lengthAdjust="spacingAndGlyphs">1.0</text>
<text x="395.6" y="255.75" font-size="8" text-anchor="end" fill="#231f20" stroke="#231f20" stroke-width="0.22" textLength="10.23" lengthAdjust="spacingAndGlyphs">1.5</text>
<line x1="397.3" y1="339.3" x2="512.5" y2="339.3" stroke="#2e2e2e" stroke-width="1.35"/>
<rect x="404.1" y="283.7" width="11.7" height="55.6" fill="#4b6384" stroke="#3f5576" stroke-width="0.8"/>
<line x1="409.95" y1="281.3" x2="409.95" y2="285.2" stroke="#231f20" stroke-width="1.05"/>
<line x1="407.65" y1="281.3" x2="412.25" y2="281.3" stroke="#231f20" stroke-width="1.05"/>
<line x1="407.65" y1="285.2" x2="412.25" y2="285.2" stroke="#231f20" stroke-width="1.05"/>
<line x1="409.95" y1="339.3" x2="409.95" y2="342.3" stroke="#231f20" stroke-width="1"/>
<rect x="422.84" y="286.6" width="11.7" height="52.7" fill="#6aa453" stroke="#5a9245" stroke-width="0.8"/>
<line x1="428.69" y1="285.3" x2="428.69" y2="287.2" stroke="#231f20" stroke-width="1.05"/>
<line x1="426.39" y1="285.3" x2="430.99" y2="285.3" stroke="#231f20" stroke-width="1.05"/>
<line x1="426.39" y1="287.2" x2="430.99" y2="287.2" stroke="#231f20" stroke-width="1.05"/>
<line x1="428.69" y1="339.3" x2="428.69" y2="342.3" stroke="#231f20" stroke-width="1"/>
<rect x="441.58" y="297.5" width="11.7" height="41.8" fill="#6b4a6d" stroke="#5a3b5c" stroke-width="0.8"/>
<line x1="447.43" y1="293.3" x2="447.43" y2="301.2" stroke="#231f20" stroke-width="1.05"/>
<line x1="445.13" y1="293.3" x2="449.73" y2="293.3" stroke="#231f20" stroke-width="1.05"/>
<line x1="445.13" y1="301.2" x2="449.73" y2="301.2" stroke="#231f20" stroke-width="1.05"/>
<line x1="447.43" y1="339.3" x2="447.43" y2="342.3" stroke="#231f20" stroke-width="1"/>
<rect x="460.32" y="268.5" width="11.7" height="70.8" fill="#a33545" stroke="#8f2738" stroke-width="0.8"/>
<line x1="466.17" y1="262.8" x2="466.17" y2="273" stroke="#231f20" stroke-width="1.05"/>
<line x1="463.87" y1="262.8" x2="468.47" y2="262.8" stroke="#231f20" stroke-width="1.05"/>
<line x1="463.87" y1="273" x2="468.47" y2="273" stroke="#231f20" stroke-width="1.05"/>
<line x1="466.17" y1="339.3" x2="466.17" y2="342.3" stroke="#231f20" stroke-width="1"/>
<rect x="479.06" y="277.8" width="11.7" height="61.5" fill="#d9953c" stroke="#c78530" stroke-width="0.8"/>
<line x1="484.91" y1="275.7" x2="484.91" y2="278.8" stroke="#231f20" stroke-width="1.05"/>
<line x1="482.61" y1="275.7" x2="487.21" y2="275.7" stroke="#231f20" stroke-width="1.05"/>
<line x1="482.61" y1="278.8" x2="487.21" y2="278.8" stroke="#231f20" stroke-width="1.05"/>
<line x1="484.91" y1="339.3" x2="484.91" y2="342.3" stroke="#231f20" stroke-width="1"/>
<rect x="497.8" y="291.3" width="11.7" height="48" fill="#4b7a60" stroke="#3e6a52" stroke-width="0.8"/>
<line x1="503.65" y1="287" x2="503.65" y2="294.9" stroke="#231f20" stroke-width="1.05"/>
<line x1="501.35" y1="287" x2="505.95" y2="287" stroke="#231f20" stroke-width="1.05"/>
<line x1="501.35" y1="294.9" x2="505.95" y2="294.9" stroke="#231f20" stroke-width="1.05"/>
<line x1="503.65" y1="339.3" x2="503.65" y2="342.3" stroke="#231f20" stroke-width="1"/>
<path d="M406.5 259.8 V256.2 H463.5 V259.6" fill="none" stroke="#231f20" stroke-width="0.9"/>
<path d="M465.8 258.8 V255.2 H485.3 V258.8" fill="none" stroke="#231f20" stroke-width="0.9"/>
<path d="M465.8 247.8 V244.5 H501.1 V247.8" fill="none" stroke="#231f20" stroke-width="0.9"/>
<circle cx="433.65" cy="252.2" r="1" fill="#3a3a3a"/>
<circle cx="436.55" cy="252.2" r="1" fill="#3a3a3a"/>
<circle cx="475.7" cy="251.9" r="1" fill="#3a3a3a"/>
<circle cx="482.25" cy="241.1" r="1" fill="#3a3a3a"/>
<circle cx="485.15" cy="241.1" r="1" fill="#3a3a3a"/>
<text x="377.6" y="295.8" font-size="9.6" text-anchor="middle" fill="#231f20" stroke="#231f20" stroke-width="0.22" transform="rotate(-90 377.6 295.8)" textLength="53" lengthAdjust="spacingAndGlyphs">MFI of TMRM</text>
<text x="413.85" y="348.9" font-size="8" text-anchor="end" fill="#231f20" stroke="#231f20" stroke-width="0.22" textLength="35.7" lengthAdjust="spacingAndGlyphs" transform="rotate(-45 413.85 348.9)">WT + shluc</text>
<text x="432.59" y="348.9" font-size="8" text-anchor="end" fill="#231f20" stroke="#231f20" stroke-width="0.22" textLength="55.1" lengthAdjust="spacingAndGlyphs" transform="rotate(-45 432.59 348.9)">WT + shCox10#1</text>
<text x="451.33" y="348.9" font-size="8" text-anchor="end" fill="#231f20" stroke="#231f20" stroke-width="0.22" textLength="55.1" lengthAdjust="spacingAndGlyphs" transform="rotate(-45 451.33 348.9)">WT + shCox10#2</text>
<text x="470.07" y="348.9" font-size="8" text-anchor="end" fill="#231f20" stroke="#231f20" stroke-width="0.22" textLength="37.4" lengthAdjust="spacingAndGlyphs" transform="rotate(-45 470.07 348.9)">KO + shLuc</text>
<text x="488.81" y="348.9" font-size="8" text-anchor="end" fill="#231f20" stroke="#231f20" stroke-width="0.22" textLength="54.5" lengthAdjust="spacingAndGlyphs" transform="rotate(-45 488.81 348.9)">KO + shCox10#1</text>
<text x="507.55" y="348.9" font-size="8" text-anchor="end" fill="#231f20" stroke="#231f20" stroke-width="0.22" textLength="54.5" lengthAdjust="spacingAndGlyphs" transform="rotate(-45 507.55 348.9)">KO + shCox10#2</text>
<text x="8.1" y="436.7" font-size="11.5" text-anchor="start" fill="#231f20" stroke="#231f20" stroke-width="0.22" textLength="7.1" lengthAdjust="spacingAndGlyphs">G</text>
<text x="28.6" y="461.5" font-size="8" text-anchor="start" fill="#231f20" stroke="#231f20" stroke-width="0.22" textLength="27.2" lengthAdjust="spacingAndGlyphs">miR-451</text>
<line x1="60.4" y1="458.8" x2="75.7" y2="458.8" stroke="#231f20" stroke-width="1"/>
<line x1="75.7" y1="452.9" x2="75.7" y2="463.7" stroke="#231f20" stroke-width="1.1"/>
<path d="M82.5 459.4 C88 462 92 470 98 468.3 C103 467 103.5 460.2 107.5 460.2 C112 460.2 114 466.5 119.6 466.1 C124 465.7 126 461 129 459.4" fill="none" stroke="#79b15a" stroke-width="1.2"/>
<text x="129.9" y="456.8" font-size="8" text-anchor="start" fill="#231f20" stroke="#231f20" stroke-width="0.22" textLength="19.9" lengthAdjust="spacingAndGlyphs">AAAA</text>
<line x1="69.3" y1="471" x2="69.3" y2="483.9" stroke="#a1263c" stroke-width="1.15"/>
<path d="M69.3 488.9 L65.9 480.9 L69.3 483.1 L72.7 480.9 Z" fill="#a1263c"/>
<rect x="76.2" y="474.7" width="65.8" height="11.9" fill="#fefefd" stroke="#bb5f72" stroke-width="1.2"/>
<text x="87" y="484" font-size="8" text-anchor="start" fill="#231f20" stroke="#231f20" stroke-width="0.22" textLength="44" lengthAdjust="spacingAndGlyphs">Cox10 mRNA</text>
<line x1="105.5" y1="493" x2="105.5" y2="523" stroke="#3a3a3a" stroke-width="1.1"/>
<path d="M105.5 528.2 L102.0 520.0 L105.5 522.3 L109.0 520.0 Z" fill="#231f20"/>
<rect x="84.3" y="533.3" width="43.2" height="30.2" rx="5" ry="5" fill="#c3cfa6" stroke="#333" stroke-width="1.1"/>
<text x="95.1" y="551.2" font-size="8" text-anchor="start" fill="#231f20" stroke="#231f20" stroke-width="0.22" textLength="21.1" lengthAdjust="spacingAndGlyphs">Cox10</text>
<line x1="69.6" y1="564.6" x2="69.6" y2="577.4" stroke="#a1263c" stroke-width="1.15"/>
<path d="M69.6 582.4 L66.2 574.4 L69.6 576.6 L73 574.4 Z" fill="#a1263c"/>
<rect x="76.3" y="568.8" width="65.6" height="11.5" fill="#fefefd" stroke="#bb5f72" stroke-width="1.2"/>
<text x="85.4" y="577.3" font-size="8" text-anchor="start" fill="#231f20" stroke="#231f20" stroke-width="0.22" textLength="46.9" lengthAdjust="spacingAndGlyphs">Cox10 protein</text>
<line x1="133.7" y1="549.4" x2="185" y2="549.4" stroke="#231f20" stroke-width="1" stroke-dasharray="3 2.2"/>
<path d="M163.3 549.4 L155.0 545.8 L157.4 549.4 L155.0 553.0 Z" fill="#231f20"/>
<path d="M190.2 549.4 L181.9 545.8 L184.3 549.4 L181.9 553.0 Z" fill="#231f20"/>
<line x1="173.5" y1="508.7" x2="173.5" y2="523.3" stroke="#a1263c" stroke-width="1.15"/>
<path d="M173.5 528.3 L170.1 520.3 L173.5 522.5 L176.9 520.3 Z" fill="#a1263c"/>
<rect x="179.7" y="512" width="57.7" height="12.1" fill="#fefefd" stroke="#bb5f72" stroke-width="1.2"/>
<text x="187.4" y="521" font-size="8" text-anchor="start" fill="#231f20" stroke="#231f20" stroke-width="0.22" textLength="42.2" lengthAdjust="spacingAndGlyphs">Cox1 protein</text>
<ellipse cx="211.1" cy="549.2" rx="16.9" ry="19.8" fill="#70a3d2" stroke="#333" stroke-width="1.1"/>
<text x="202.9" y="551.4" font-size="8.4" text-anchor="start" fill="#231f20" stroke="#231f20" stroke-width="0.22" textLength="15.7" lengthAdjust="spacingAndGlyphs">Cox1</text>
<path d="M222.5 567.3 C245 584 265 590 290 589 C320 588 345 575 369 563.5" fill="none" stroke="#231f20" stroke-width="1.1"/>
<path d="M372.3 562.0 L364.4 561.9 L367.0 564.1 L366.5 567.6 Z" fill="#231f20"/>
<text x="260.6" y="581.2" font-size="8" text-anchor="start" fill="#231f20" stroke="#231f20" stroke-width="0.22" textLength="43.1" lengthAdjust="spacingAndGlyphs">Main subunit</text>
<line x1="218.8" y1="447.5" x2="218.8" y2="462.6" stroke="#a1263c" stroke-width="1.15"/>
<path d="M218.8 467.6 L215.4 459.6 L218.8 461.8 L222.2 459.6 Z" fill="#a1263c"/>
<rect x="226.1" y="452.8" width="144" height="11.7" fill="#fefefd" stroke="#bb5f72" stroke-width="1.2"/>
<text x="239.8" y="461.2" font-size="8" text-anchor="start" fill="#231f20" stroke="#231f20" stroke-width="0.22" textLength="116.5" lengthAdjust="spacingAndGlyphs">Mitochondrial Membrane Potential</text>
<rect x="243" y="481.2" width="160.4" height="86" fill="none" stroke="#231f20" stroke-width="1" stroke-dasharray="3.2 2.4"/>
<text x="251.2" y="491" font-size="8" text-anchor="start" fill="#231f20" stroke="#231f20" stroke-width="0.22" textLength="130.4" lengthAdjust="spacingAndGlyphs">Mitochondrial Electron Transport Chain</text>
<line x1="262" y1="529.8" x2="384" y2="529.8" stroke="#444" stroke-width="1"/>
<rect x="252.3" y="497.9" width="20.4" height="63.8" rx="3" ry="3" fill="#d0c0d2" stroke="#3a3a3a" stroke-width="1"/>
<text x="265.9" y="529.6" font-size="8" text-anchor="middle" fill="#231f20" stroke="#231f20" stroke-width="0.22" transform="rotate(-90 265.9 529.6)">Complex I</text>
<rect x="292.85" y="497.9" width="20.4" height="63.8" rx="3" ry="3" fill="#a38ba4" stroke="#3a3a3a" stroke-width="1"/>
<text x="306.45" y="529.6" font-size="8" text-anchor="middle" fill="#231f20" stroke="#231f20" stroke-width="0.22" transform="rotate(-90 306.45 529.6)">Complex III</text>
<rect x="333.4" y="497.9" width="20.4" height="63.8" rx="3" ry="3" fill="#7d5e7e" stroke="#3a3a3a" stroke-width="1"/>
<text x="347" y="529.6" font-size="8" text-anchor="middle" fill="#f4eef4" stroke="#f4eef4" stroke-width="0.22" transform="rotate(-90 347 529.6)">Cytochrome C</text>
<rect x="373.95" y="497.9" width="20.4" height="63.8" rx="3" ry="3" fill="#603f61" stroke="#3a3a3a" stroke-width="1"/>
<text x="387.55" y="529.6" font-size="8" text-anchor="middle" fill="#f4eef4" stroke="#f4eef4" stroke-width="0.22" transform="rotate(-90 387.55 529.6)">Complex IV</text>
<text x="262.5" y="474" font-size="7.5" text-anchor="middle" fill="#231f20" stroke="#231f20" stroke-width="0.08">e<tspan font-size="4.5" dy="-3">-</tspan></text>
<path d="M270.2 478.7 C274 472 277 468 280.3 468.2 C283.5 468.4 285.5 471.5 287.3 474.8" fill="none" stroke="#231f20" stroke-width="1.15"/>
<path d="M289.8 479.0 L284.8 475.7 L287.4 475.4 L288.8 473.1 Z" fill="#231f20"/>
<text x="302.9" y="474" font-size="7.5" text-anchor="middle" fill="#231f20" stroke="#231f20" stroke-width="0.08">e<tspan font-size="4.5" dy="-3">-</tspan></text>
<path d="M311.7 478.7 C315.64 472 318.74 468 322.16 468.2 C325.48 468.4 327.55 471.5 329.41 474.8" fill="none" stroke="#231f20" stroke-width="1.15"/>
<path d="M332 479.0 L326.82 475.7 L329.51 475.4 L330.96 473.1 Z" fill="#231f20"/>
<text x="343.7" y="474" font-size="7.5" text-anchor="middle" fill="#231f20" stroke="#231f20" stroke-width="0.08">e<tspan font-size="4.5" dy="-3">-</tspan></text>
<path d="M353.7 478.7 C357.34 472 360.22 468 363.39 468.2 C366.46 468.4 368.38 471.5 370.1 474.8" fill="none" stroke="#231f20" stroke-width="1.15"/>
<path d="M372.5 479.0 L367.7 475.7 L370.2 475.4 L371.54 473.1 Z" fill="#231f20"/>
<text x="383.8" y="474" font-size="7.5" text-anchor="middle" fill="#231f20" stroke="#231f20" stroke-width="0.08">e<tspan font-size="4.5" dy="-3">-</tspan></text>
<path d="M389.2 478.6 C393.5 471.5 398 468 402.6 468.1 C406.5 468.2 409.5 471 412.6 475.0" fill="none" stroke="#231f20" stroke-width="1.15"/>
<path d="M406.9 455.2 C405.2 460.5 405.6 466.5 409.6 471.3" fill="none" stroke="#231f20" stroke-width="1.1"/>
<path d="M415.8 479.2 L409.3 476.2 L412.9 475.6 L414.6 472.0 Z" fill="#231f20"/>
<text x="407" y="452.2" font-size="8" text-anchor="start" fill="#231f20" stroke="#231f20" stroke-width="0.22">O<tspan font-size="5" dy="-3">2</tspan></text>
<text x="412.9" y="488.6" font-size="8" text-anchor="start" fill="#231f20" stroke="#231f20" stroke-width="0.22">H<tspan font-size="5" dy="2">2</tspan><tspan dy="-2">O</tspan></text>
<line x1="422.9" y1="455.6" x2="422.9" y2="470.6" stroke="#a1263c" stroke-width="1.15"/>
<path d="M422.9 475.6 L419.5 467.6 L422.9 469.8 L426.3 467.6 Z" fill="#a1263c"/>
<rect x="431.7" y="447.4" width="72" height="33.4" fill="#fefefd" stroke="#bb5f72" stroke-width="1.2"/>
<text x="467.7" y="457" font-size="8" text-anchor="middle" fill="#231f20" stroke="#231f20" stroke-width="0.22">Mitochondrial</text>
<text x="467.7" y="466.6" font-size="8" text-anchor="middle" fill="#231f20" stroke="#231f20" stroke-width="0.22" textLength="37.5" lengthAdjust="spacingAndGlyphs">Respiration</text>
<text x="467.7" y="476.3" font-size="8" text-anchor="middle" fill="#231f20" stroke="#231f20" stroke-width="0.22">(O<tspan font-size="5" dy="-3">2</tspan><tspan dy="3"> consumption)</tspan></text>
<line x1="411.1" y1="533.5" x2="411.1" y2="548.9" stroke="#a1263c" stroke-width="1.15"/>
<path d="M411.1 553.9 L407.7 545.9 L411.1 548.1 L414.5 545.9 Z" fill="#a1263c"/>
<rect x="418.5" y="539" width="82.1" height="11.3" fill="#fefefd" stroke="#bb5f72" stroke-width="1.2"/>
<text x="427.5" y="547.3" font-size="8" text-anchor="start" fill="#231f20" stroke="#231f20" stroke-width="0.22" textLength="64" lengthAdjust="spacingAndGlyphs">Complex IV activity</text>
<rect x="363.9" y="576.6" width="136.7" height="11.3" fill="#fefefd" stroke="#bb5f72" stroke-width="1.2"/>
<text x="376.2" y="584.9" font-size="8" text-anchor="start" fill="#231f20" stroke="#231f20" stroke-width="0.22" textLength="112.2" lengthAdjust="spacingAndGlyphs">No change in mitochondrial mass</text>
<rect x="0" y="0" width="520" height="1" fill="#080808"/>
<rect x="0" y="1" width="520" height="1" fill="#b0b0b0" opacity="0.6"/>
<rect x="0" y="595" width="520" height="1" fill="#080808"/>
<rect x="0" y="594" width="520" height="1" fill="#555" opacity="0.5"/>
<rect x="0" y="0" width="1" height="596" fill="#444"/>
<rect x="1" y="0" width="1" height="596" fill="#8a8a8a"/>
<rect x="519" y="0" width="1" height="596" fill="#555"/>
<rect x="518" y="0" width="1" height="596" fill="#999" opacity="0.7"/>
</svg></body></html>
